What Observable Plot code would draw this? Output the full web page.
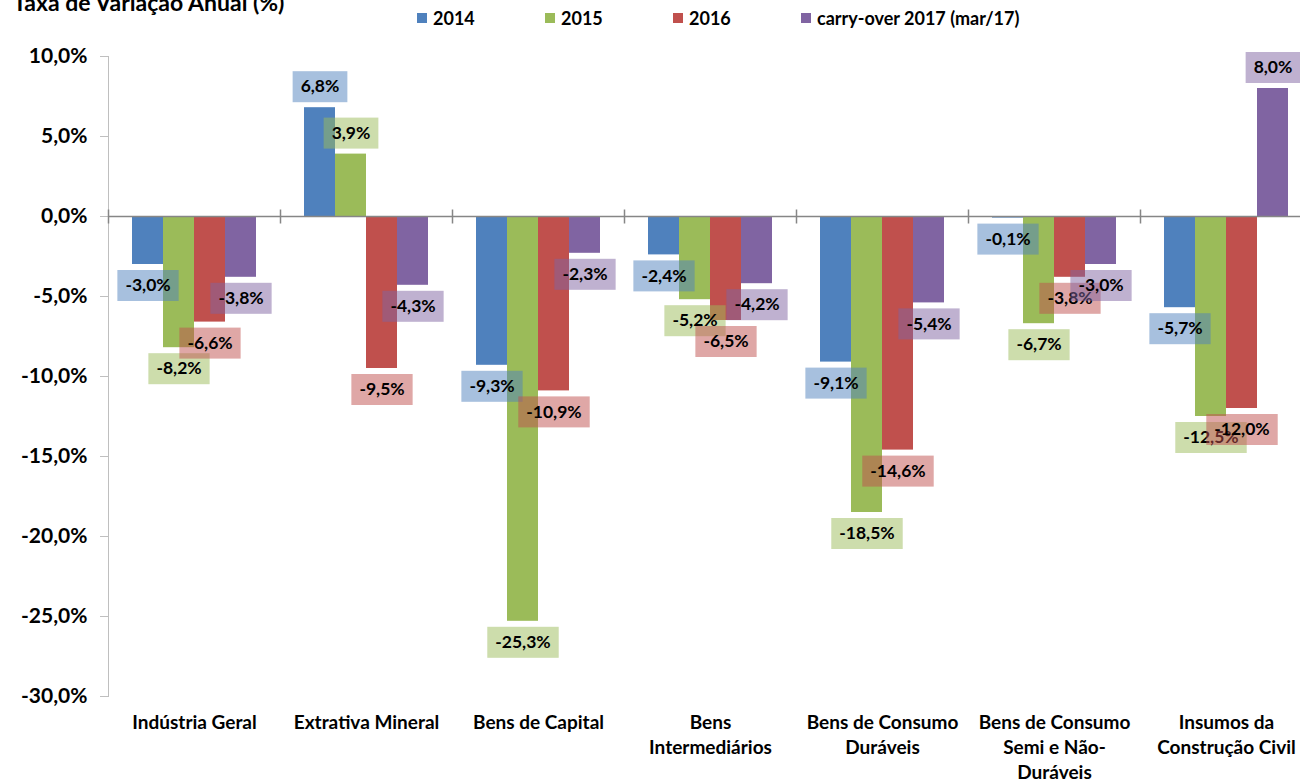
<!DOCTYPE html>
<html><head><meta charset="utf-8">
<script src="https://cdn.jsdelivr.net/npm/d3@7"></script>
<script src="https://cdn.jsdelivr.net/npm/@observablehq/plot@0.6"></script>
<style>
html,body{margin:0;padding:0;background:#fff;overflow:hidden;width:1300px;height:783px;}
#wrap{position:relative;width:1300px;height:783px;overflow:hidden;font-family:Lato,sans-serif;color:#000;}
#chart{position:absolute;left:0;top:0;width:1300px;height:783px;overflow:hidden;}
#chart svg{position:absolute;left:0;top:0;max-width:none;}
#title{position:absolute;left:13px;top:-9px;font-size:23px;font-weight:bold;line-height:22px;white-space:nowrap;z-index:2;}
#legend{position:absolute;left:417px;top:8px;height:20px;display:flex;align-items:center;font-size:18px;font-weight:bold;z-index:2;}
.item{display:flex;align-items:center;width:128px;white-space:nowrap;}
.item:last-child{width:auto;}
.sw{width:10px;height:10px;margin-right:6px;flex:none;}
</style></head>
<body><div id="wrap"><div id="chart"></div><div id="title">Taxa de Variação Anual (%)</div><div id="legend"></div></div>
<script>
const categories = ["Indústria Geral","Extrativa Mineral","Bens de Capital","Bens Intermediários","Bens de Consumo Duráveis","Bens de Consumo Semi e Não-Duráveis","Insumos da Construção Civil"];
const categoryLabels = ["Indústria Geral","Extrativa Mineral","Bens de Capital","Bens\nIntermediários","Bens de Consumo\nDuráveis","Bens de Consumo\nSemi e Não-\nDuráveis","Insumos da\nConstrução Civil"];
const series = ["2014","2015","2016","carry-over 2017 (mar/17)"];
const colors = ["#4f81bd","#9bbb59","#c0504d","#8064a2"];
const v2014 = [-3.0, 6.8, -9.3, -2.4, -9.1, -0.1, -5.7];
const v2015 = [-8.2, 3.9, -25.3, -5.2, -18.5, -6.7, -12.5];
const v2016 = [-6.6, -9.5, -10.9, -6.5, -14.6, -3.8, -12.0];
const v2017 = [-3.8, -4.3, -2.3, -4.2, -5.4, -3.0, 8.0];
const yTicks = [10, 5, 0, -5, -10, -15, -20, -25, -30];

const seriesValues = [v2014, v2015, v2016, v2017];
const rows = [];
categories.forEach((c, ci) => series.forEach((s, si) => rows.push({category: c, series: s, value: seriesValues[si][ci]})));
const colorOf = s => colors[series.indexOf(s)];
const fmtPct = d => d.toFixed(1).replace(".", ",") + "%";
const labelFont = 17.5;

function boxRender(data) {
  return function(index, scales, values, dimensions, context, next) {
    const g = next(index, scales, values, dimensions, context);
    const cnv = document.createElement("canvas").getContext("2d");
    cnv.font = `bold ${labelFont}px Lato`;
    const texts = Array.from(g.querySelectorAll("text"));
    texts.forEach((t, j) => {
      const i = index[j];
      const w = cnv.measureText(t.textContent).width + 16;
      const r = document.createElementNS("http://www.w3.org/2000/svg", "rect");
      const tr = t.getAttribute("transform") || `translate(${t.getAttribute("x") || 0},${t.getAttribute("y") || 0})`;
      r.setAttribute("transform", tr);
      r.setAttribute("x", -w / 2);
      r.setAttribute("y", -15.5);
      r.setAttribute("width", w);
      r.setAttribute("height", 31);
      r.setAttribute("fill", colorOf(data[i].series));
      r.setAttribute("fill-opacity", 0.5);
      t.parentNode.insertBefore(r, t);
    });
    return g;
  };
}

function labels(data, dy) {
  return Plot.text(data, {
    fx: "category", x: "series", y: "value", dy,
    text: d => fmtPct(d.value),
    fontSize: labelFont, fontWeight: "bold", fill: "#000",
    render: boxRender(data)
  });
}

const tickSymbol = {draw(ctx) { ctx.moveTo(0, -7); ctx.lineTo(0, 7); }};

const chart = Plot.plot({
  width: 1312, height: 783,
  marginTop: 56, marginBottom: 87, marginLeft: 108, marginRight: 0,
  style: {fontFamily: "Lato, sans-serif", background: "white", color: "#000", maxWidth: "none"},
  fx: {domain: categories, padding: 0},
  x: {domain: series, paddingInner: 0, paddingOuter: 0.77, axis: null},
  y: {domain: [-30, 10]},
  color: {domain: series, range: colors},
  marks: [
    Plot.frame({anchor: "left", stroke: "#bfbfbf", facetAnchor: "left"}),
    Plot.axisY(yTicks, {tickSize: 8, tickPadding: 13, tickFormat: fmtPct, fontSize: 21, fontWeight: "bold", stroke: "#bfbfbf", fill: "#000", label: null}),
    Plot.axisFx({anchor: "bottom", tickSize: 0, tickPadding: 15, fontSize: 19, fontWeight: "bold", lineHeight: 1.32, fill: "#000", label: null,
      tickFormat: d => categoryLabels[categories.indexOf(d)]}),
    Plot.barY(rows, {fx: "category", x: "series", y: "value", fill: "series"}),
    Plot.ruleY([0], {stroke: "#868686", strokeWidth: 1.5}),
    Plot.dot(categories, {fx: d => d, y: () => 0, frameAnchor: "left", symbol: tickSymbol, stroke: "#868686", strokeWidth: 1.5, fill: "none"}),
    labels(rows.filter(d => d.value >= 0), -21),
    labels(rows.filter(d => d.value < 0), 21)
  ]
});
chart.style.maxWidth = "none";
document.getElementById("chart").appendChild(chart);

const legend = document.getElementById("legend");
series.forEach((s, i) => {
  const it = document.createElement("div");
  it.className = "item";
  const sw = document.createElement("span");
  sw.className = "sw";
  sw.style.background = colors[i];
  it.appendChild(sw);
  it.appendChild(document.createTextNode(s));
  legend.appendChild(it);
});
</script>
</body></html>
